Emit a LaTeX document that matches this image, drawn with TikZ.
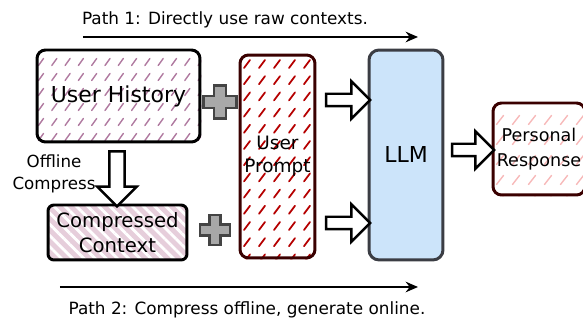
\documentclass[tikz,border=0pt]{standalone}
\usepackage{fontspec}
\setmainfont{DejaVu Sans}
\usetikzlibrary{positioning,shapes.arrows,arrows.meta,backgrounds,patterns.meta}
\definecolor{histhatch}{HTML}{B07AA0}
\definecolor{darkmaroon}{HTML}{3A0000}
\definecolor{prompthatch}{HTML}{B50000}
\definecolor{resphatch}{HTML}{F7B9B9}
\definecolor{llmblue}{HTML}{CCE4FA}
\definecolor{llmedge}{HTML}{3B3D44}
\definecolor{comppink}{HTML}{E6CEDB}
\definecolor{plusgray}{HTML}{A8A8A8}
\definecolor{plusedge}{HTML}{444444}
\tikzset{
  plussign/.pic={
    \draw[plusedge, fill=plusgray, line width=1.3pt]
      (-5.5,-15) -- (5.5,-15) -- (5.5,-5.5) -- (15,-5.5) -- (15,5.5) -- (5.5,5.5) -- (5.5,15)
      -- (-5.5,15) -- (-5.5,5.5) -- (-15,5.5) -- (-15,-5.5) -- (-5.5,-5.5) -- cycle;
  }
}

\begin{document}
\begin{tikzpicture}[
    x=0.02cm, y=-0.02cm,
    box/.style={draw, rounded corners=0.17cm, inner sep=0pt, align=center},
    histbox/.style={box, line width=1.7pt, minimum width=3.26cm, minimum height=1.84cm,
      font=\fontsize{12.5}{15}\selectfont},
    promptbox/.style={box, draw=darkmaroon, line width=1.7pt, minimum width=1.5cm,
      minimum height=4.06cm, font=\fontsize{10.5}{13}\selectfont},
    llmbox/.style={box, draw=llmedge, fill=llmblue, line width=1.7pt, rounded corners=0.2cm,
      minimum width=1.48cm, minimum height=4.2cm, font=\fontsize{12.5}{15}\selectfont},
    respbox/.style={box, draw=darkmaroon, line width=1.7pt, minimum width=1.84cm,
      minimum height=1.84cm, font=\fontsize{10}{14}\selectfont},
    compbox/.style={box, line width=1.7pt, rounded corners=0.12cm, minimum width=2.78cm,
      minimum height=1.1cm, preaction={fill=comppink},
      pattern={Lines[angle=-45, distance=4.5pt, line width=1.6pt]}, pattern color=white,
      font=\fontsize{11.2}{14.2}\selectfont},
    blockarrow/.style={single arrow, draw, fill=white, line width=1.4pt,
      minimum height=0.88cm, minimum width=0.7cm, single arrow head extend=0.25cm,
      inner xsep=0pt, inner ysep=0.1cm},
    patharrow/.style={line width=1.3pt, -{Stealth[length=7pt, width=6pt]}},
    pathtext/.style={font=\fontsize{9.6}{12}\selectfont},
    hatch/.style={line width=0.8pt, line cap=round},
  ]
  \useasboundingbox (0,0) rectangle (583,320);

  % boxes
  \node[histbox] (hist) at (118.5,96) {User History};
  \node[promptbox] (prompt) at (277.5,156.5) {User\\Prompt};
  \node[llmbox] (llm) at (406,155) {LLM};
  \node[respbox] (resp) at (539,149) {Personal\\Response};
  \node[compbox] (comp) at (117.5,232.5) {Compressed\\Context};

  % hatching under the open boxes
  \begin{scope}[on background layer]
    \begin{scope}
      \clip[rounded corners=0.17cm] (hist.south west) rectangle (hist.north east);
      \foreach \i in {0,...,12}
        \foreach \j in {0,...,6}
          \draw[hatch, histhatch] (41+13.3*\i, 62+15*\j) +(-2.5,3.5) -- +(2.5,-3.5);
    \end{scope}
    \begin{scope}
      \clip[rounded corners=0.17cm] (prompt.south west) rectangle (prompt.north east);
      \foreach \i in {0,...,5}
        \foreach \j in {0,...,13}
          \draw[hatch, prompthatch, line width=1pt] (247+15*\i, 64+16.2*\j) +(-3,4) -- +(3,-4);
    \end{scope}
    \begin{scope}
      \clip[rounded corners=0.17cm] (resp.south west) rectangle (resp.north east);
      \foreach \i in {0,...,6}
        \foreach \j in {0,...,4}
          \draw[hatch, resphatch] (500+16*\i, 120+20*\j) +(-3.5,4.5) -- +(3.5,-4.5);
    \end{scope}
  \end{scope}

  % plus signs
  \pic at (220,102) [scale=1.1] {plussign};
  \pic at (215,230) {plussign};

  % block arrows
  \node[blockarrow] (toLLMa) at (345,100) {};
  \node[blockarrow] (toLLMb) at (345,223) {};
  \node[blockarrow, minimum height=0.84cm] (toResp) at (470,150) {};
  \node[blockarrow, minimum height=1.1cm, minimum width=0.74cm, inner sep=0.13cm,
    single arrow head extend=0.24cm, shape border rotate=270] (down) at (117,175) {};
  \node[align=center, font=\fontsize{9.5}{12.5}\selectfont] (offl) at (54,174) {Offline\\Compress};

  % the two paths
  \coordinate (p1s) at (83,37);
  \coordinate (p1e) at (418,37);
  \coordinate (p2s) at (60,287);
  \coordinate (p2e) at (418,287);
  \draw[patharrow] (p1s) -- (p1e);
  \draw[patharrow] (p2s) -- (p2e);
  \node[pathtext] (path1) at (225,20) {Path 1: Directly use raw contexts.};
  \node[pathtext] (path2) at (247,310) {Path 2: Compress offline, generate online.};
\end{tikzpicture}
\end{document}
